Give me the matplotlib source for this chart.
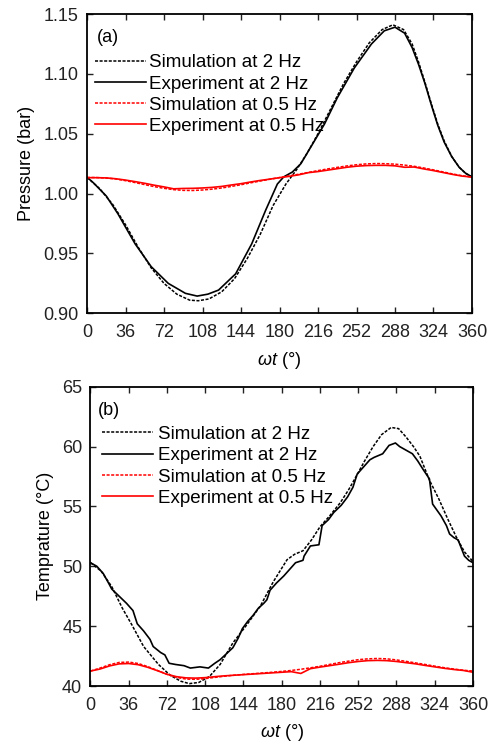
import matplotlib
matplotlib.use("Agg")
import matplotlib.pyplot as plt

plt.rcParams['font.family'] = ['Liberation Sans', 'DejaVu Sans']
plt.rcParams['mathtext.fontset'] = 'custom'
plt.rcParams['mathtext.it'] = 'Liberation Sans:italic'
plt.rcParams['mathtext.rm'] = 'Liberation Sans'

# ---------------- Panel (a): Pressure ----------------
p_sim2_x = [0, 12, 24, 36, 48, 60, 72, 84, 96, 104, 114, 126, 138, 150, 162, 174, 186, 196,
            206, 216, 228, 240, 252, 264, 276, 286, 296, 304, 310, 316, 322, 328, 334, 341,
            348, 354, 360]
p_sim2_y = [1.0137, 1.004, 0.991, 0.974, 0.955, 0.938, 0.925, 0.916, 0.911, 0.9105, 0.912,
            0.918, 0.929, 0.946, 0.966, 0.990, 1.008, 1.020, 1.034, 1.050, 1.071, 1.092,
            1.110, 1.126, 1.137, 1.141, 1.137, 1.125, 1.110, 1.093, 1.075, 1.058, 1.044,
            1.031, 1.022, 1.017, 1.0137]

p_exp2_x = [0, 6, 18, 29, 45, 60, 76, 92, 103, 113, 123, 139, 154, 167, 178, 184, 192, 200,
            210, 222, 234, 250, 266, 278, 288, 297, 304, 310, 316, 322, 328, 334, 341, 348,
            354, 360]
p_exp2_y = [1.0137, 1.009, 0.998, 0.983, 0.958, 0.939, 0.925, 0.9167, 0.9144, 0.916, 0.9194,
            0.933, 0.958, 0.986, 1.008, 1.014, 1.018, 1.025, 1.040, 1.058, 1.080, 1.105,
            1.125, 1.136, 1.139, 1.134, 1.122, 1.108, 1.092, 1.074, 1.057, 1.043, 1.031,
            1.022, 1.017, 1.014]

grid9 = [0, 9, 18, 27, 36, 45, 54, 63, 72, 81, 90, 99, 108, 117, 126, 135, 144, 153, 162,
         171, 180, 189, 198, 207, 216, 225, 234, 243, 252, 261, 270, 279, 288, 297, 306,
         315, 324, 333, 342, 351, 360]

p_sim05_y = [1.0135, 1.0134, 1.0130, 1.0122, 1.0108, 1.0092, 1.0075, 1.0058, 1.0044, 1.0033,
             1.0027, 1.0026, 1.0030, 1.0037, 1.0047, 1.0060, 1.0074, 1.0090, 1.0105, 1.0120,
             1.0134, 1.0148, 1.0162, 1.0177, 1.0192, 1.0206, 1.0219, 1.0231, 1.0241, 1.0248,
             1.0251, 1.0250, 1.0246, 1.0238, 1.0228, 1.0214, 1.0198, 1.0181, 1.0164, 1.0149,
             1.0137]
p_exp05_y = [1.0133, 1.0133, 1.0131, 1.0124, 1.0113, 1.0100, 1.0086, 1.0070, 1.0056, 1.0040,
             1.0043, 1.0044, 1.0047, 1.0052, 1.0060, 1.0072, 1.0083, 1.0097, 1.0110, 1.0121,
             1.0133, 1.0144, 1.0157, 1.0175, 1.0184, 1.0196, 1.0208, 1.0220, 1.0229, 1.0234,
             1.0236, 1.0236, 1.0232, 1.0220, 1.0222, 1.0206, 1.0192, 1.0176, 1.0160, 1.0146,
             1.0138]

# ---------------- Panel (b): Temperature ----------------
t_sim2_x = [0, 10, 20, 30, 39, 50, 64, 75, 85, 93, 102, 112, 122, 134, 147, 160, 172, 185,
            192, 200, 208, 216, 225, 235, 243, 250, 258, 266, 274, 283, 290, 297, 304, 310,
            319, 328, 336, 344, 352, 360]
t_sim2_y = [50.3, 49.6, 48.3, 46.5, 45.1, 43.3, 41.8, 40.9, 40.4, 40.2, 40.3, 40.8, 41.8,
            43.6, 45.1, 46.7, 48.7, 50.55, 51.0, 51.3, 52.2, 53.3, 54.2, 55.3, 56.4, 57.5,
            58.8, 60.0, 61.0, 61.6, 61.5, 60.8, 60.0, 59.2, 57.2, 55.6, 54.0, 52.5, 51.2, 50.4]

t_exp2_x = [0, 6, 12, 17, 20, 27, 34, 40, 44, 50, 56, 59, 66, 70, 74, 80, 88, 94, 103, 111,
            117, 122, 128, 134, 139, 143, 148, 153, 158, 163, 166, 169, 175, 182, 188, 193,
            200, 201, 207, 215, 218, 224, 229, 236, 242, 247, 251, 258, 263, 267, 275, 281,
            287, 291, 295, 303, 308, 313, 319, 322, 326, 330, 335, 338, 342, 346, 352, 356,
            360]
t_exp2_y = [50.3, 50.0, 49.4, 48.6, 48.1, 47.5, 46.9, 46.3, 45.2, 44.6, 43.9, 43.3, 42.8,
            42.6, 41.9, 41.8, 41.7, 41.5, 41.6, 41.5, 41.9, 42.2, 42.7, 43.2, 44.0, 44.8,
            45.4, 45.9, 46.5, 46.9, 47.2, 48.0, 48.6, 49.2, 49.8, 50.3, 50.5, 50.85, 51.7,
            51.8, 53.4, 53.9, 54.5, 55.1, 55.8, 56.6, 57.7, 58.4, 58.9, 59.1, 59.4, 60.1,
            60.3, 60.0, 59.8, 59.4, 58.8, 58.1, 57.3, 55.2, 54.7, 54.2, 53.4, 52.7, 52.4,
            52.2, 50.85, 50.5, 50.3]

t_sim05_y = [41.25, 41.5, 41.78, 41.97, 42.0, 41.88, 41.62, 41.3, 40.98, 40.72, 40.58, 40.56,
             40.62, 40.72, 40.82, 40.9, 40.97, 41.03, 41.09, 41.15, 41.22, 41.3, 41.4, 41.52,
             41.65, 41.8, 41.95, 42.08, 42.2, 42.27, 42.3, 42.27, 42.18, 42.06, 41.93, 41.8,
             41.66, 41.53, 41.42, 41.32, 41.25]
t_exp05_y = [41.25, 41.42, 41.68, 41.85, 41.88, 41.78, 41.56, 41.28, 40.98, 40.78, 40.68,
             40.66, 40.7, 40.78, 40.85, 40.9, 40.95, 41.0, 41.05, 41.1, 41.15, 41.2, 41.05,
             41.45, 41.58, 41.7, 41.82, 41.95, 42.05, 42.12, 42.14, 42.12, 42.05, 41.95,
             41.85, 41.72, 41.6, 41.48, 41.38, 41.3, 41.15]

labels = ['Simulation at 2 Hz', 'Experiment at 2 Hz',
          'Simulation at 0.5 Hz', 'Experiment at 0.5 Hz']
xticks = [0, 36, 72, 108, 144, 180, 216, 252, 288, 324, 360]

FS = 13
LFS = 13.5
DOT = (0, (2, 1))

fig = plt.figure(figsize=(4.91, 7.46), dpi=100)
ax1 = fig.add_axes([0.1772, 0.580, 0.7841, 0.4012])
ax2 = fig.add_axes([0.1843, 0.0804, 0.779, 0.4012])


def style(ax):
    ax.set_xlim(0, 360)
    ax.set_xticks(xticks)
    ax.tick_params(direction='in', length=4, width=1, top=True, right=True,
                   labelsize=FS, colors='#222222')
    ax.tick_params(axis='x', pad=8)
    ax.tick_params(axis='y', pad=6)
    for s in ax.spines.values():
        s.set_linewidth(1.3)
    ax.set_xlabel(r'$\omega t$ (°)', fontsize=FS, labelpad=6)


ax1.plot(p_sim2_x, p_sim2_y, color='black', lw=1.1, ls=DOT, label=labels[0])
ax1.plot(p_exp2_x, p_exp2_y, color='black', lw=1.2, ls='-', label=labels[1])
ax1.plot(grid9, p_sim05_y, color='red', lw=1.1, ls=DOT, label=labels[2])
ax1.plot(grid9, p_exp05_y, color='red', lw=1.2, ls='-', label=labels[3])
style(ax1)
ax1.set_ylim(0.90, 1.15)
ax1.set_yticks([0.90, 0.95, 1.00, 1.05, 1.10, 1.15])
ax1.set_yticklabels(['0.90', '0.95', '1.00', '1.05', '1.10', '1.15'])
ax1.set_ylabel('Pressure (bar)', fontsize=FS, labelpad=6)
ax1.text(0.026, 0.923, '(a)', transform=ax1.transAxes, fontsize=FS, va='center', ha='left')
ax1.legend(loc='upper left', bbox_to_anchor=(0.021, 0.866), frameon=False, fontsize=LFS,
           handlelength=2.72, handletextpad=0.18, labelspacing=0.22, borderpad=0,
           borderaxespad=0)

ax2.plot(t_sim2_x, t_sim2_y, color='black', lw=1.1, ls=DOT, label=labels[0])
ax2.plot(t_exp2_x, t_exp2_y, color='black', lw=1.2, ls='-', label=labels[1])
ax2.plot(grid9, t_sim05_y, color='red', lw=1.1, ls=DOT, label=labels[2])
ax2.plot(grid9, t_exp05_y, color='red', lw=1.2, ls='-', label=labels[3])
style(ax2)
ax2.set_ylim(40, 65)
ax2.set_yticks([40, 45, 50, 55, 60, 65])
ax2.set_ylabel('Temprature (°C)', fontsize=FS, labelpad=6)
ax2.text(0.018, 0.922, '(b)', transform=ax2.transAxes, fontsize=FS, va='center', ha='left')
ax2.legend(loc='upper left', bbox_to_anchor=(0.031, 0.869), frameon=False, fontsize=LFS,
           handlelength=2.72, handletextpad=0.27, labelspacing=0.22, borderpad=0,
           borderaxespad=0)

fig.savefig('out.png', dpi=100)
